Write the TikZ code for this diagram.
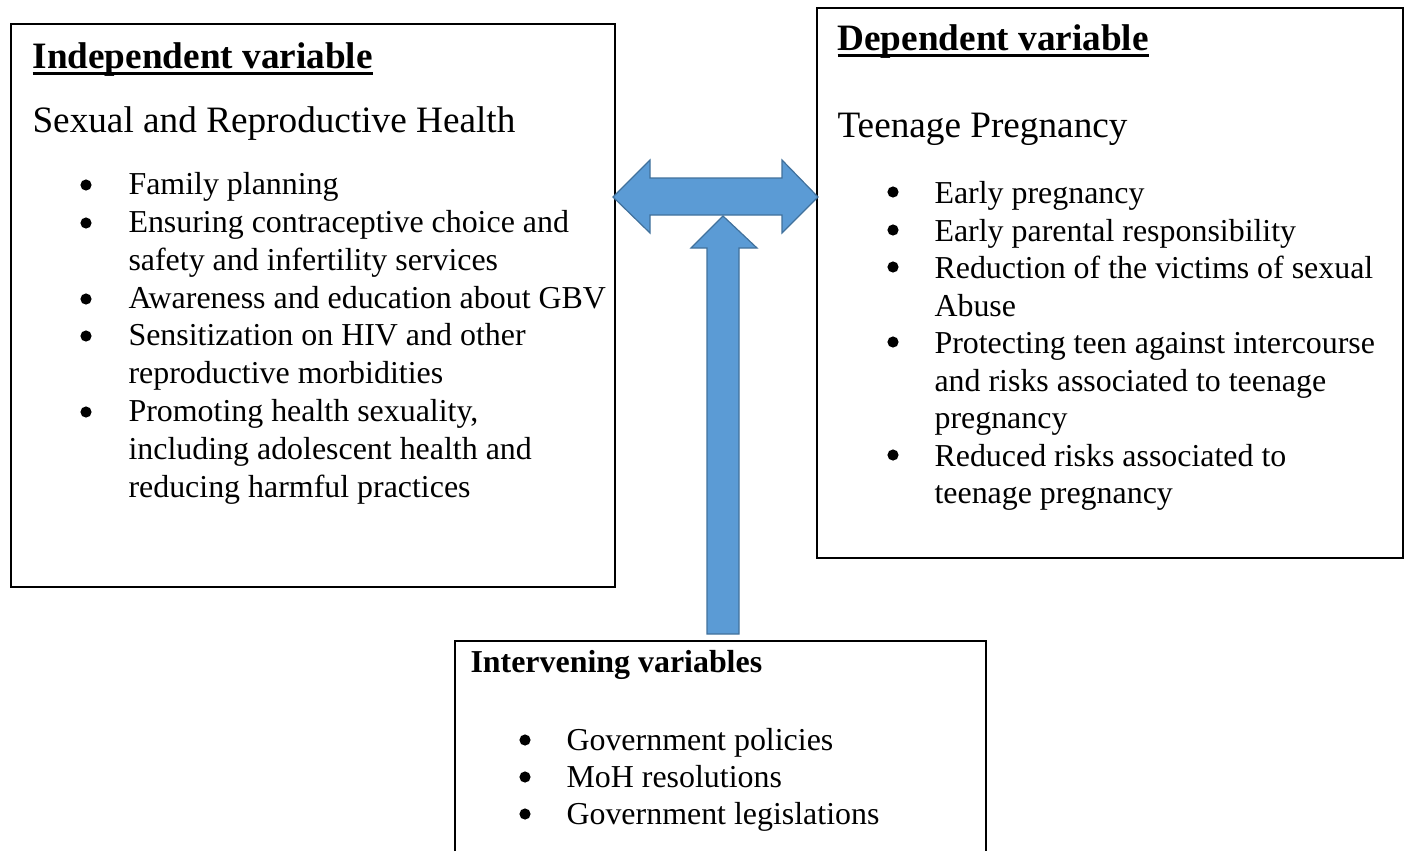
\documentclass[tikz,border=0pt]{standalone}
\usepackage{fontspec}
\setmainfont{Liberation Serif}
\usetikzlibrary{fit}
\definecolor{arrowfill}{RGB}{91,155,213}
\definecolor{arrowedge}{RGB}{65,113,156}
\newcommand\ulbold[1]{\setbox0\hbox{\bfseries #1}\rlap{\rule[-2.5pt]{\wd0}{1.1pt}}\box0}
\tikzset{
  box/.style={draw=black, line width=0.6pt, inner sep=0pt},
  blockarrow/.style={fill=arrowfill, draw=arrowedge, line width=0.45pt, line join=miter},
  big/.style={anchor=base west, inner sep=0pt, font=\fontsize{14}{16}\selectfont},
  txt/.style={anchor=base west, inner sep=0pt, font=\fontsize{12}{14}\selectfont},
  bul/.style={fill=black},
}
\begin{document}
\begin{tikzpicture}[x=0.376pt, y=-0.376pt]
\useasboundingbox (0,0) rectangle (1408,851);
% boxes
\node[box, fit={(11,24)(615,587)}] (ind) {};
\node[box, fit={(817,8)(1403,558)}] (dep) {};
\coordinate (ivtl) at (455,641);
\coordinate (ivtr) at (986,641);
\draw[line width=0.6pt] (455,851) -- (ivtl) -- (ivtr) -- (986,851);

% block arrows
\path[blockarrow] (613,197) -- (650,160) -- (650,178) -- (782,178) -- (782,160) -- (818,197)
  -- (782,233) -- (782,215) -- (650,215) -- (650,233) -- cycle;
\path[blockarrow] (723,216) -- (757,248) -- (739,248) -- (739,634) -- (707,634) -- (707,248)
  -- (691,248) -- cycle;

% independent
\node[big] (indt) at (32,68) {\ulbold{Independent variable}};
\node[big] (indh) at (32,132) {Sexual and Reproductive Health};
\foreach \y in {194,232,308,345,421} \fill[bul] (86,\y-9) circle (2.1pt);
\node[txt] (i1) at (128,194) {Family planning};
\node[txt] (i2) at (128,232) {Ensuring contraceptive choice and};
\node[txt] (i2b) at (128,270) {safety and infertility services};
\node[txt] (i3) at (128,308) {Awareness and education about GBV};
\node[txt] (i4) at (128,345) {Sensitization on HIV and other};
\node[txt] (i4b) at (128,383) {reproductive morbidities};
\node[txt] (i5) at (128,421) {Promoting health sexuality,};
\node[txt] (i5b) at (128,459) {including adolescent health and};
\node[txt] (i5c) at (128,497) {reducing harmful practices};

% dependent
\node[big] (dept) at (837,50) {\ulbold{Dependent variable}};
\node[big] (deph) at (837,137) {Teenage Pregnancy};
\foreach \y in {203,241,278,353,466} \fill[bul] (893,\y-11) circle (2.1pt);
\node[txt] (d1) at (934,203) {Early pregnancy};
\node[txt] (d2) at (934,241) {Early parental responsibility};
\node[txt] (d3) at (934,278) {Reduction of the victims of sexual};
\node[txt] (d3b) at (934,316) {Abuse};
\node[txt] (d4) at (934,353) {Protecting teen against intercourse};
\node[txt] (d4b) at (934,391) {and risks associated to teenage};
\node[txt] (d4c) at (934,428) {pregnancy};
\node[txt] (d5) at (934,466) {Reduced risks associated to};
\node[txt] (d5b) at (934,503) {teenage pregnancy};

% intervening
\node[txt, font=\fontsize{12}{14}\selectfont\bfseries] (ivt) at (470,672) {Intervening variables};
\foreach \y in {750,787,824} \fill[bul] (525,\y-10) circle (2.1pt);
\node[txt] (v1) at (566,750) {Government policies};
\node[txt] (v2) at (566,787) {MoH resolutions};
\node[txt] (v3) at (566,824) {Government legislations};
\end{tikzpicture}
\end{document}
